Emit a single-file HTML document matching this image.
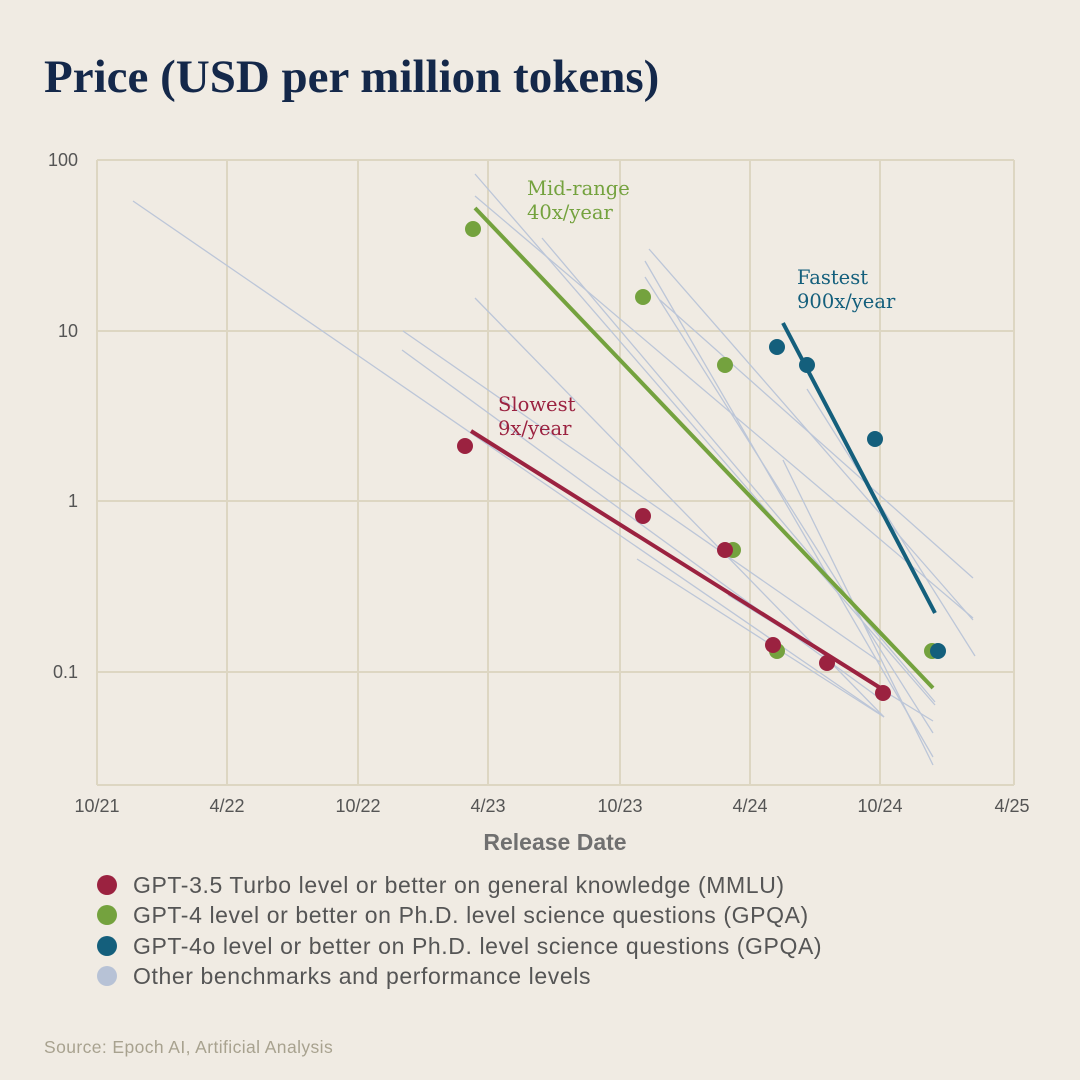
<!DOCTYPE html>
<html><head><style>
body{margin:0;background:#f0ebe3;}
svg{display:block}
</style></head><body>
<svg width="1080" height="1080" viewBox="0 0 1080 1080" xmlns="http://www.w3.org/2000/svg">
<rect width="1080" height="1080" fill="#f0ebe3"/>
<text x="44" y="92" font-family="Liberation Serif, serif" font-size="47" font-weight="bold" fill="#14284a">Price (USD per million tokens)</text>
<g stroke="#ddd6c2" stroke-width="2" fill="none">
<line x1="97" y1="160" x2="1014" y2="160"/><line x1="97" y1="331" x2="1014" y2="331"/>
<line x1="97" y1="501" x2="1014" y2="501"/><line x1="97" y1="672" x2="1014" y2="672"/>
<line x1="97" y1="785" x2="1014" y2="785"/>
<line x1="97" y1="160" x2="97" y2="785"/><line x1="227" y1="160" x2="227" y2="785"/>
<line x1="358" y1="160" x2="358" y2="785"/><line x1="488" y1="160" x2="488" y2="785"/>
<line x1="620" y1="160" x2="620" y2="785"/><line x1="750" y1="160" x2="750" y2="785"/>
<line x1="880" y1="160" x2="880" y2="785"/><line x1="1014" y1="160" x2="1014" y2="785"/>
</g>
<g font-family="Liberation Sans, sans-serif" font-size="18" fill="#555" text-anchor="end">
<text x="78" y="166">100</text><text x="78" y="337">10</text><text x="78" y="507">1</text><text x="78" y="678">0.1</text>
</g>
<g font-family="Liberation Sans, sans-serif" font-size="18" fill="#555" text-anchor="middle">
<text x="97" y="812">10/21</text><text x="227" y="812">4/22</text><text x="358" y="812">10/22</text><text x="488" y="812">4/23</text><text x="620" y="812">10/23</text><text x="750" y="812">4/24</text><text x="880" y="812">10/24</text><text x="1012" y="812">4/25</text>
</g>
<text x="555" y="850" font-family="Liberation Sans, sans-serif" font-size="23" font-weight="bold" fill="#707070" text-anchor="middle">Release Date</text>
<g stroke="#bcc6d8" stroke-width="1.3" fill="none">
<line x1="133" y1="201" x2="883" y2="716"/>
<line x1="403" y1="331" x2="880" y2="662"/>
<line x1="475" y1="174" x2="935" y2="705"/>
<line x1="475" y1="196" x2="973" y2="618"/>
<line x1="475" y1="298" x2="884" y2="717"/>
<line x1="542" y1="238" x2="935" y2="702"/>
<line x1="649" y1="249" x2="973" y2="620"/>
<line x1="645" y1="261" x2="933" y2="757"/>
<line x1="645" y1="277" x2="933" y2="733"/>
<line x1="783" y1="460" x2="933" y2="765"/>
<line x1="807" y1="389" x2="975" y2="656"/>
<line x1="637" y1="559" x2="884" y2="717"/>
<line x1="728" y1="595" x2="933" y2="721"/>
<line x1="402" y1="350" x2="882" y2="700"/>
<line x1="660" y1="300" x2="973" y2="578"/>
</g>
<line x1="475" y1="208" x2="933" y2="688" stroke="#74a23e" stroke-width="4"/>
<line x1="471" y1="431" x2="882" y2="689" stroke="#9b2240" stroke-width="4"/>
<line x1="783" y1="323" x2="935" y2="613" stroke="#145f7c" stroke-width="4"/>
<g fill="#74a23e"><circle cx="473" cy="229" r="8"/><circle cx="643" cy="297" r="8"/><circle cx="725" cy="365" r="8"/><circle cx="733" cy="550" r="8"/><circle cx="777" cy="651" r="8"/><circle cx="932" cy="651" r="8"/></g>
<g fill="#9b2240"><circle cx="465" cy="446" r="8"/><circle cx="643" cy="516" r="8"/><circle cx="725" cy="550" r="8"/><circle cx="773" cy="645" r="8"/><circle cx="827" cy="663" r="8"/><circle cx="883" cy="693" r="8"/></g>
<g fill="#145f7c"><circle cx="777" cy="347" r="8"/><circle cx="807" cy="365" r="8"/><circle cx="875" cy="439" r="8"/><circle cx="938" cy="651" r="8"/></g>
<g font-family="DejaVu Serif, serif" font-size="19.5">
<text x="527" y="195" fill="#74a23e">Mid-range</text><text x="527" y="219" fill="#74a23e">40x/year</text>
<text x="797" y="284" fill="#145f7c">Fastest</text><text x="797" y="308" fill="#145f7c">900x/year</text>
<text x="498" y="411" fill="#9b2240">Slowest</text><text x="498" y="435" fill="#9b2240">9x/year</text>
</g>
<circle cx="107" cy="885" r="10" fill="#9b2240"/>
<circle cx="107" cy="915" r="10" fill="#74a23e"/>
<circle cx="107" cy="946" r="10" fill="#145f7c"/>
<circle cx="107" cy="976" r="10" fill="#b7c2d6"/>
<g font-family="Liberation Sans, sans-serif" font-size="23" letter-spacing="0.6" fill="#555">
<text x="133" y="893">GPT-3.5 Turbo level or better on general knowledge (MMLU)</text>
<text x="133" y="923">GPT-4 level or better on Ph.D. level science questions (GPQA)</text>
<text x="133" y="954">GPT-4o level or better on Ph.D. level science questions (GPQA)</text>
<text x="133" y="984">Other benchmarks and performance levels</text>
</g>
<text x="44" y="1053" font-family="Liberation Sans, sans-serif" font-size="17.5" letter-spacing="0.4" fill="#a8a28f">Source: Epoch AI, Artificial Analysis</text>
</svg>
</body></html>
